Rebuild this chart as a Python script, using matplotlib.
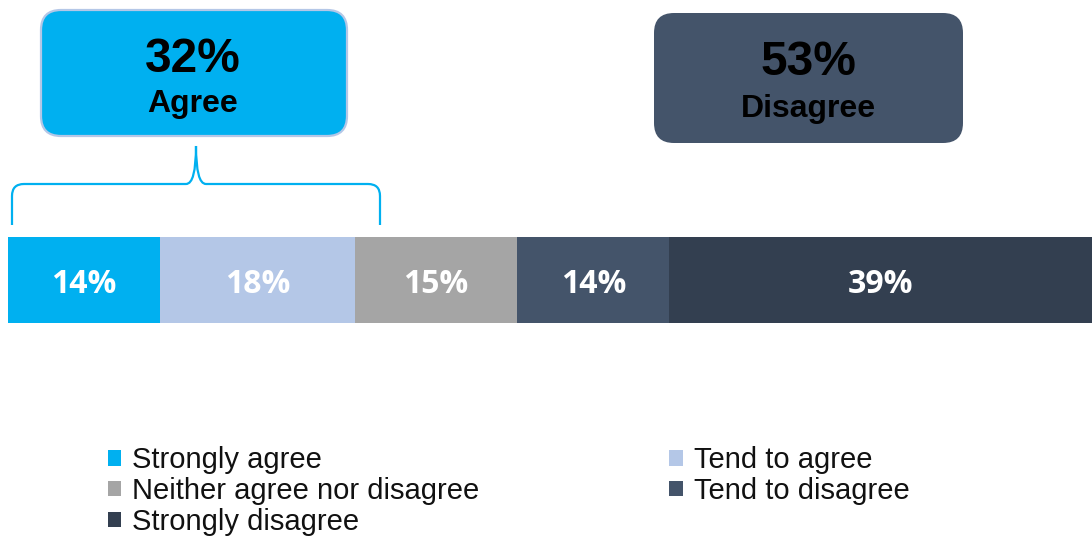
import numpy as np
import matplotlib
matplotlib.use("Agg")
import matplotlib.pyplot as plt
from matplotlib.patches import FancyBboxPatch, PathPatch
from matplotlib.path import Path

# Survey responses (percent of respondents)
categories = ["Strongly agree", "Tend to agree", "Neither agree nor disagree",
              "Tend to disagree", "Strongly disagree"]
values = [14, 18, 15, 14, 39]
colors = ["#00B0F0", "#B4C7E7", "#A5A5A5", "#44546A", "#333F50"]

agree_total = values[0] + values[1]
disagree_total = values[3] + values[4]

W, H = 1092, 538
fig = plt.figure(figsize=(W / 100, H / 100), dpi=100)

# --- stacked bar -------------------------------------------------------------
ax = fig.add_axes([8 / W, 1 - 323 / H, 1084 / W, 86 / H])
ax.set_xlim(0, 100)
ax.set_ylim(-0.5, 0.5)
ax.set_axis_off()

lefts = np.concatenate([[0], np.cumsum(values)[:-1]])
bars = []
for name, v, l, c in zip(categories, values, lefts, colors):
    b = ax.barh(0, v, left=l, height=1, color=c, edgecolor="none", label=name)
    bars.append(b)
    ax.text(l + v / 2, -0.151, f"{v}%", ha="center", va="baseline",
            color="white", fontsize=23, fontweight="bold", family="Open Sans")

# --- annotation layer in pixel units -----------------------------------------
ov = fig.add_axes([0, 0, 1, 1])
ov.set_xlim(0, W)
ov.set_ylim(H, 0)
ov.set_axis_off()
ov.patch.set_alpha(0)

agree_box = FancyBboxPatch((41, 10), 306, 126,
                           boxstyle="round,pad=0,rounding_size=20",
                           facecolor="#00B0F0", edgecolor="#B4C7E7", linewidth=1.6)
ov.add_patch(agree_box)
ov.text(193, 72, f"{agree_total}%", ha="center", va="baseline",
        fontsize=34.5, fontweight="bold", family="Liberation Sans", color="black")
ov.text(193, 112, "Agree", ha="center", va="baseline",
        fontsize=23, fontweight="bold", family="Liberation Sans", color="black")

disagree_box = FancyBboxPatch((654, 13), 309, 130,
                              boxstyle="round,pad=0,rounding_size=20",
                              facecolor="#44546A", edgecolor="none")
ov.add_patch(disagree_box)
ov.text(808, 75, f"{disagree_total}%", ha="center", va="baseline",
        fontsize=34.5, fontweight="bold", family="Liberation Sans", color="black")
ov.text(808, 117, "Disagree", ha="center", va="baseline",
        fontsize=23, fontweight="bold", family="Liberation Sans", color="black")

# curly bracket over the agree segments
verts = [(12, 225), (12, 196), (12, 184), (24, 184), (186, 184),
         (196, 184), (196, 146),
         (196, 184), (206, 184), (368, 184), (380, 184), (380, 196), (380, 225)]
codes = [Path.MOVETO, Path.LINETO, Path.CURVE3, Path.CURVE3, Path.LINETO,
         Path.CURVE3, Path.CURVE3,
         Path.CURVE3, Path.CURVE3, Path.LINETO, Path.CURVE3, Path.CURVE3, Path.LINETO]
ov.add_patch(PathPatch(Path(verts, codes), facecolor="none",
                       edgecolor="#00B0F0", linewidth=1.6, capstyle="butt"))

# --- legend --------------------------------------------------------------------
order = [0, 2, 4, 1, 3]
leg = fig.legend([bars[i] for i in order], [categories[i] for i in order],
                 ncol=2, loc="upper left", bbox_to_anchor=(108 / W, 1 - 446 / H),
                 frameon=False, prop={"family": "Liberation Sans", "size": 21},
                 handlelength=0.46, handleheight=0.46, handletextpad=0.38,
                 columnspacing=6.5, labelspacing=0.1, borderpad=0,
                 borderaxespad=0)
for t in leg.get_texts():
    t.set_color("#111111")

fig.savefig("out.png", dpi=100)
